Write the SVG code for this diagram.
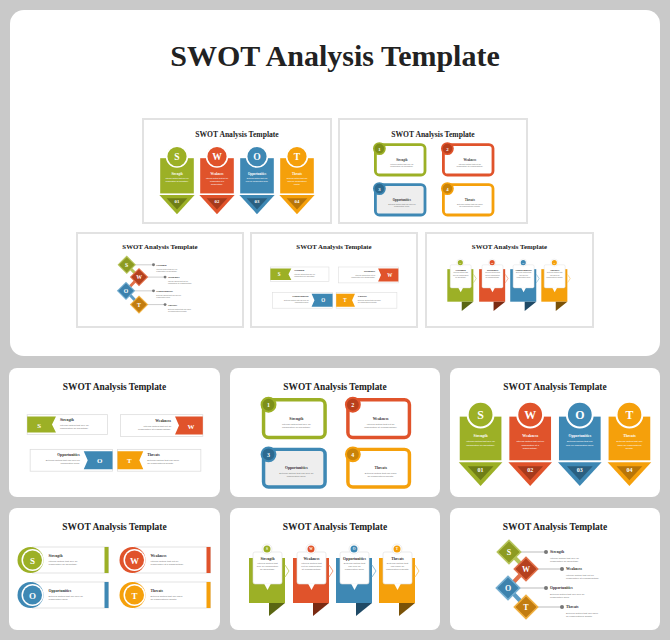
<svg xmlns="http://www.w3.org/2000/svg" xmlns:xlink="http://www.w3.org/1999/xlink" width="670" height="640" viewBox="0 0 670 640">
<style>
.tt{font-family:"Liberation Serif",serif;font-weight:bold;fill:#222;text-anchor:middle}
.l{font-family:"Liberation Serif",serif;font-weight:bold;font-size:3.8px;fill:#333}
.d{font-family:"Liberation Sans",sans-serif;font-size:2.4px;fill:#777}
.w{fill:#fff}
.lt{font-family:"Liberation Serif",serif;font-weight:bold;fill:#fff;text-anchor:middle}
.box{fill:#fff;stroke:#ddd;stroke-width:0.8}
.slide{fill:#fff;stroke:#e2e2e2;stroke-width:2}
.card{fill:#fff}
.m{text-anchor:middle}
.e{text-anchor:end}
</style>
<defs>
<symbol id="A" viewBox="0 0 210 130">
<text class="tt" x="105" y="22" font-size="9.5">SWOT Analysis Template</text>
<rect class="box" x="17" y="47" width="81" height="20"/>
<polygon points="17,49 46,49 42,57 46,65 17,65" fill="#9cb026"/>
<text class="lt" x="29" y="60" font-size="7">S</text>
<text class="l" x="50" y="53">Strength</text>
<text class="d" x="50" y="58">Internal factors that give an</text>
<text class="d" x="50" y="61">organization an advantage.</text>
<rect class="box" x="111" y="47" width="83" height="22"/>
<polygon points="166,49 194,49 194,67 166,67 170,58" fill="#e0532b"/>
<text class="lt" x="182" y="61" font-size="7">W</text>
<text class="l e" x="162" y="54">Weakness</text>
<text class="d e" x="162" y="59">Internal factors that put an</text>
<text class="d e" x="162" y="62">organization at a disadvantage.</text>
<rect class="box" x="20" y="82" width="83" height="22"/>
<polygon points="74,84 103,84 103,102 74,102 78,93" fill="#3e88b4"/>
<text class="lt" x="90" y="96" font-size="7">O</text>
<text class="l e" x="70" y="89">Opportunities</text>
<text class="d e" x="70" y="94">External factors that can help an</text>
<text class="d e" x="70" y="97">organization grow.</text>
<rect class="box" x="108" y="82" width="84" height="22"/>
<polygon points="108,84 134,84 130,93 134,102 108,102" fill="#f5a00b"/>
<text class="lt" x="120" y="96" font-size="7">T</text>
<text class="l" x="138" y="89">Threats</text>
<text class="d" x="138" y="94">External factors that can harm</text>
<text class="d" x="138" y="97">an organization's growth.</text>
</symbol>
<symbol id="B" viewBox="0 0 210 130">
<text class="tt" x="105" y="22" font-size="9.5">SWOT Analysis Template</text>
<rect x="33" y="32" width="62" height="38" rx="5" fill="#fff" stroke="#9cb026" stroke-width="3.5"/>
<circle cx="38" cy="37" r="7" fill="#7d8f1a" stroke="#9cb026" stroke-width="2"/>
<text class="lt" x="38" y="39.5" font-size="6">1</text>
<text class="l m" x="66" y="52">Strength</text>
<text class="d m" x="66" y="57">Internal factors that give an</text>
<text class="d m" x="66" y="60">organization an advantage.</text>
<rect x="118" y="32" width="62" height="38" rx="5" fill="#fff" stroke="#e0532b" stroke-width="3.5"/>
<circle cx="123" cy="37" r="7" fill="#b83f1c" stroke="#e0532b" stroke-width="2"/>
<text class="lt" x="123" y="39.5" font-size="6">2</text>
<text class="l m" x="151" y="52">Weakness</text>
<text class="d m" x="151" y="57">Internal factors that put an</text>
<text class="d m" x="151" y="60">organization at a disadvantage.</text>
<rect x="33" y="82" width="62" height="38" rx="5" fill="#eee" stroke="#3e88b4" stroke-width="3.5"/>
<circle cx="38" cy="87" r="7" fill="#2d6a90" stroke="#3e88b4" stroke-width="2"/>
<text class="lt" x="38" y="89.5" font-size="6">3</text>
<text class="l m" x="66" y="102">Opportunities</text>
<text class="d m" x="66" y="107">External factors that can help an</text>
<text class="d m" x="66" y="110">organization grow.</text>
<rect x="118" y="82" width="62" height="38" rx="5" fill="#fff" stroke="#f5a00b" stroke-width="3.5"/>
<circle cx="123" cy="87" r="7" fill="#c98308" stroke="#f5a00b" stroke-width="2"/>
<text class="lt" x="123" y="89.5" font-size="6">4</text>
<text class="l m" x="151" y="102">Threats</text>
<text class="d m" x="151" y="107">External factors that can harm</text>
<text class="d m" x="151" y="110">an organization's growth.</text>
</symbol>
<symbol id="C" viewBox="0 0 210 130">
<text class="tt" x="105" y="22" font-size="9.5">SWOT Analysis Template</text>
<g>
<rect x="9" y="49" width="42" height="44" fill="#9cb026"/>
<circle cx="30" cy="47" r="13" fill="#9cb026" stroke="#fff" stroke-width="2"/>
<text class="lt" x="30" y="51.5" font-size="12">S</text>
<text class="lt" x="30" y="70" font-size="3.8">Strength</text>
<text class="d m w" x="30" y="75">Internal factors that give an</text>
<text class="d m w" x="30" y="78.5">organization an advantage.</text>
<polygon points="8,95 52,95 30,119" fill="#9cb026"/>
<polygon points="17,99 43,99 30,113" fill="#6f7e16"/>
<text class="lt" x="30" y="105" font-size="6">01</text>
</g>
<g>
<rect x="59" y="49" width="42" height="44" fill="#e0532b"/>
<circle cx="80" cy="47" r="13" fill="#e0532b" stroke="#fff" stroke-width="2"/>
<text class="lt" x="80" y="51.5" font-size="12">W</text>
<text class="lt" x="80" y="70" font-size="3.8">Weakness</text>
<text class="d m w" x="80" y="75">Internal factors that put an</text>
<text class="d m w" x="80" y="78.5">organization at a</text>
<text class="d m w" x="80" y="82">disadvantage.</text>
<polygon points="58,95 102,95 80,119" fill="#e0532b"/>
<polygon points="67,99 93,99 80,113" fill="#a63a1c"/>
<text class="lt" x="80" y="105" font-size="6">02</text>
</g>
<g>
<rect x="109" y="49" width="42" height="44" fill="#3e88b4"/>
<circle cx="130" cy="47" r="13" fill="#3e88b4" stroke="#fff" stroke-width="2"/>
<text class="lt" x="130" y="51.5" font-size="12">O</text>
<text class="lt" x="130" y="70" font-size="3.8">Opportunities</text>
<text class="d m w" x="130" y="75">External factors that can</text>
<text class="d m w" x="130" y="78.5">help an organization grow.</text>
<polygon points="108,95 152,95 130,119" fill="#3e88b4"/>
<polygon points="117,99 143,99 130,113" fill="#2a5f80"/>
<text class="lt" x="130" y="105" font-size="6">03</text>
</g>
<g>
<rect x="159" y="49" width="42" height="44" fill="#f5a00b"/>
<circle cx="180" cy="47" r="13" fill="#f5a00b" stroke="#fff" stroke-width="2"/>
<text class="lt" x="180" y="51.5" font-size="12">T</text>
<text class="lt" x="180" y="70" font-size="3.8">Threats</text>
<text class="d m w" x="180" y="75">External factors that can</text>
<text class="d m w" x="180" y="78.5">harm an organization's</text>
<text class="d m w" x="180" y="82">growth.</text>
<polygon points="158,95 202,95 180,119" fill="#f5a00b"/>
<polygon points="167,99 193,99 180,113" fill="#b87508"/>
<text class="lt" x="180" y="105" font-size="6">04</text>
</g>
</symbol>
<symbol id="D" viewBox="0 0 210 130">
<text class="tt" x="105" y="22" font-size="9.5">SWOT Analysis Template</text>
<rect class="box" x="23" y="39" width="76" height="26"/><rect x="95" y="39" width="4" height="26" fill="#9cb026"/>
<circle cx="21" cy="52" r="13" fill="#9cb026"/><circle cx="23" cy="52" r="11" fill="#fff"/><circle cx="23" cy="52" r="9.5" fill="#9cb026"/>
<text class="lt" x="23" y="55.5" font-size="9">S</text>
<text class="l" x="39" y="49">Strength</text><text class="d" x="39" y="54">Internal factors that give an</text><text class="d" x="39" y="57">organization an advantage.</text>
<rect class="box" x="125" y="39" width="76" height="26"/><rect x="197" y="39" width="4" height="26" fill="#e0532b"/>
<circle cx="123" cy="52" r="13" fill="#e0532b"/><circle cx="125" cy="52" r="11" fill="#fff"/><circle cx="125" cy="52" r="9.5" fill="#e0532b"/>
<text class="lt" x="125" y="55.5" font-size="9">W</text>
<text class="l" x="141" y="49">Weakness</text><text class="d" x="141" y="54">Internal factors that put an</text><text class="d" x="141" y="57">organization at a disadvantage.</text>
<rect class="box" x="23" y="74" width="76" height="26"/><rect x="95" y="74" width="4" height="26" fill="#3e88b4"/>
<circle cx="21" cy="87" r="13" fill="#3e88b4"/><circle cx="23" cy="87" r="11" fill="#fff"/><circle cx="23" cy="87" r="9.5" fill="#3e88b4"/>
<text class="lt" x="23" y="90.5" font-size="9">O</text>
<text class="l" x="39" y="84">Opportunities</text><text class="d" x="39" y="89">External factors that can help an</text><text class="d" x="39" y="92">organization grow.</text>
<rect class="box" x="125" y="74" width="76" height="26"/><rect x="197" y="74" width="4" height="26" fill="#f5a00b"/>
<circle cx="123" cy="87" r="13" fill="#f5a00b"/><circle cx="125" cy="87" r="11" fill="#fff"/><circle cx="125" cy="87" r="9.5" fill="#f5a00b"/>
<text class="lt" x="125" y="90.5" font-size="9">T</text>
<text class="l" x="141" y="84">Threats</text><text class="d" x="141" y="89">External factors that can harm</text><text class="d" x="141" y="92">an organization's growth.</text>
</symbol>
<g id="callout">
<rect x="4" y="44" width="29" height="32" rx="2" fill="#fff" stroke="#ddd" stroke-width="0.6"/>
<polygon points="15,75.5 22,75.5 18.5,82" fill="#fff"/>
<circle cx="18" cy="41" r="5" fill="#fff" stroke="#ddd" stroke-width="0.5"/>
</g>
<symbol id="E" viewBox="0 0 210 130">
<text class="tt" x="105" y="22" font-size="9.5">SWOT Analysis Template</text>
<g transform="translate(19,0)">
<rect x="0" y="50" width="36" height="45" fill="#9cb026"/><polygon points="20,95 36,95 20,108" fill="#5a6612"/>
<polyline points="36,57 40,63 36,69" fill="none" stroke="#c9d67a" stroke-width="1"/>
<use href="#callout"/><circle cx="18" cy="41" r="3.5" fill="#9cb026"/><text class="lt" x="18" y="42.2" font-size="3.5">S</text>
<text class="l m" x="18.5" y="52" font-size="3.2">Strength</text><text class="d m" x="18.5" y="56">Internal factors that</text><text class="d m" x="18.5" y="59">give an organization</text><text class="d m" x="18.5" y="62">an advantage.</text>
</g>
<g transform="translate(63,0)">
<rect x="0" y="50" width="36" height="45" fill="#e0532b"/><polygon points="20,95 36,95 20,108" fill="#7a2a12"/>
<polyline points="36,57 40,63 36,69" fill="none" stroke="#f0a080" stroke-width="1"/>
<use href="#callout"/><circle cx="18" cy="41" r="3.5" fill="#e0532b"/><text class="lt" x="18" y="42.2" font-size="3.5">W</text>
<text class="l m" x="18.5" y="52" font-size="3.2">Weakness</text><text class="d m" x="18.5" y="56">Internal factors that</text><text class="d m" x="18.5" y="59">put an organization</text><text class="d m" x="18.5" y="62">at a disadvantage.</text>
</g>
<g transform="translate(106,0)">
<rect x="0" y="50" width="36" height="45" fill="#3e88b4"/><polygon points="20,95 36,95 20,108" fill="#1f4a66"/>
<polyline points="36,57 40,63 36,69" fill="none" stroke="#8fc0dc" stroke-width="1"/>
<use href="#callout"/><circle cx="18" cy="41" r="3.5" fill="#3e88b4"/><text class="lt" x="18" y="42.2" font-size="3.5">O</text>
<text class="l m" x="18.5" y="52" font-size="3.2">Opportunities</text><text class="d m" x="18.5" y="56">External factors that</text><text class="d m" x="18.5" y="59">can help an</text><text class="d m" x="18.5" y="62">organization grow.</text>
</g>
<g transform="translate(149,0)">
<rect x="0" y="50" width="36" height="45" fill="#f5a00b"/><polygon points="20,95 36,95 20,108" fill="#7a5208"/>
<polyline points="36,57 40,63 36,69" fill="none" stroke="#fad080" stroke-width="1"/>
<use href="#callout"/><circle cx="18" cy="41" r="3.5" fill="#f5a00b"/><text class="lt" x="18" y="42.2" font-size="3.5">T</text>
<text class="l m" x="18.5" y="52" font-size="3.2">Threats</text><text class="d m" x="18.5" y="56">External factors that</text><text class="d m" x="18.5" y="59">can harm an</text><text class="d m" x="18.5" y="62">organization's growth.</text>
</g>
</symbol>
<symbol id="F" viewBox="0 0 210 130">
<text class="tt" x="105" y="22" font-size="9.5">SWOT Analysis Template</text>
<g stroke="#aaa" stroke-width="0.8"><line x1="59" y1="44" x2="96" y2="44"/><line x1="76" y1="61" x2="112" y2="61"/><line x1="58" y1="80" x2="96" y2="80"/><line x1="76" y1="99" x2="112" y2="99"/></g>
<g fill="#777"><circle cx="96" cy="44" r="2"/><circle cx="112" cy="61" r="2"/><circle cx="96" cy="80" r="2"/><circle cx="112" cy="99" r="2"/></g>
<line x1="59" y1="44" x2="76" y2="61" stroke="#b6c45a" stroke-width="4"/>
<line x1="76" y1="61" x2="58" y2="80" stroke="#e2714a" stroke-width="4"/>
<line x1="58" y1="80" x2="76" y2="99" stroke="#5d9cc4" stroke-width="4"/>
<g transform="translate(59,44) rotate(45)"><rect x="-9" y="-9" width="18" height="18" fill="#b6c45a"/><rect x="-7.5" y="-7.5" width="15" height="15" fill="#8d9b22"/></g>
<g transform="translate(76,61) rotate(45)"><rect x="-9" y="-9" width="18" height="18" fill="#e2714a"/><rect x="-7.5" y="-7.5" width="15" height="15" fill="#b5411e"/></g>
<g transform="translate(58,80) rotate(45)"><rect x="-9" y="-9" width="18" height="18" fill="#75aed0"/><rect x="-7.5" y="-7.5" width="15" height="15" fill="#3d82ad"/></g>
<g transform="translate(76,99) rotate(45)"><rect x="-9" y="-9" width="18" height="18" fill="#f0b040"/><rect x="-7.5" y="-7.5" width="15" height="15" fill="#c27c10"/></g>
<text class="lt" x="59" y="47" font-size="8">S</text><text class="lt" x="76" y="64" font-size="8">W</text><text class="lt" x="58" y="83" font-size="8">O</text><text class="lt" x="76" y="102" font-size="8">T</text>
<text class="l" x="100" y="45.3">Strength</text><text class="d" x="100" y="51">Internal factors that give an</text><text class="d" x="100" y="54">organization an advantage.</text>
<text class="l" x="116" y="62.3">Weakness</text><text class="d" x="116" y="68">Internal factors that put an</text><text class="d" x="116" y="71">organization at a disadvantage.</text>
<text class="l" x="100" y="81.3">Opportunities</text><text class="d" x="100" y="87">External factors that can help an</text><text class="d" x="100" y="90">organization grow.</text>
<text class="l" x="116" y="100.3">Threats</text><text class="d" x="116" y="106">External factors that can harm</text><text class="d" x="116" y="109">an organization's growth.</text>
</symbol>
</defs>
<rect width="670" height="640" fill="#c9c9c9"/>
<g id="panel">
<rect x="10" y="10" width="650" height="346" rx="14" fill="#fff"/>
<text class="tt" x="335" y="66" font-size="30">SWOT Analysis Template</text>
</g>
<g id="slide1"><rect class="slide" x="143" y="119" width="188" height="104"/><use href="#C" x="143" y="119" width="188" height="104"/></g>
<g id="slide2"><rect class="slide" x="339" y="119" width="188" height="104"/><use href="#B" x="339" y="119" width="188" height="104"/></g>
<g id="slide3"><rect class="slide" x="77" y="233" width="166" height="94"/><use href="#F" x="77" y="233" width="166" height="94"/></g>
<g id="slide4"><rect class="slide" x="251" y="233" width="166" height="94"/><use href="#A" x="251" y="233" width="166" height="94"/></g>
<g id="slide5"><rect class="slide" x="426" y="233" width="167" height="94"/><use href="#E" x="426" y="233" width="167" height="94"/></g>
<g id="card1"><rect class="card" x="9" y="368" width="211" height="129" rx="8"/><use href="#A" x="9" y="368" width="211" height="129"/></g>
<g id="card2"><rect class="card" x="230" y="368" width="210" height="129" rx="8"/><use href="#B" x="230" y="368" width="210" height="129"/></g>
<g id="card3"><rect class="card" x="450" y="368" width="210" height="129" rx="8"/><use href="#C" x="450" y="368" width="210" height="129"/></g>
<g id="card4"><rect class="card" x="9" y="508" width="211" height="122" rx="8"/><use href="#D" x="9" y="508" width="211" height="130"/></g>
<g id="card5"><rect class="card" x="230" y="508" width="210" height="122" rx="8"/><use href="#E" x="230" y="508" width="210" height="130"/></g>
<g id="card6"><rect class="card" x="450" y="508" width="210" height="122" rx="8"/><use href="#F" x="450" y="508" width="210" height="130"/></g>
<g id="connectors"/>
</svg>
